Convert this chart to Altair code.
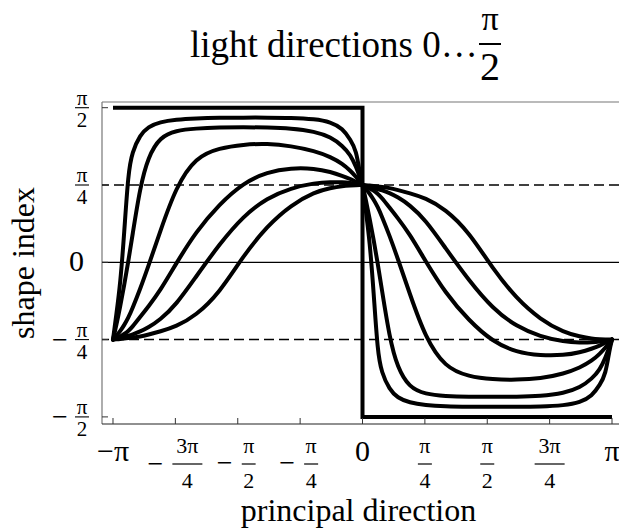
import math
import altair as alt
import pandas as pd

PI = math.pi

# ---- curve samples: principal direction (rad) -> shape index (rad) ----
theta_left = [-3.1416, -3.10, -3.05, -3.00, -2.95, -2.90, -2.80, -2.70, -2.55, -2.35, -2.10,
              -1.80, -1.50, -1.20, -0.90, -0.60, -0.40, -0.25, -0.15, -0.08, -0.03, 0.0]
left_1 = [-0.785, -0.534, -0.221, 0.298, 0.909, 1.121, 1.294, 1.377, 1.426, 1.451, 1.463,
          1.469, 1.470, 1.470, 1.469, 1.456, 1.426, 1.360, 1.243, 1.141, 0.887, 0.785]
left_2 = [-0.785, -0.643, -0.444, -0.231, 0.003, 0.257, 0.765, 1.070, 1.273, 1.339, 1.360,
          1.370, 1.372, 1.370, 1.362, 1.329, 1.273, 1.182, 1.090, 0.968, 0.857, 0.785]
left_3 = [-0.785, -0.749, -0.698, -0.637, -0.566, -0.475, -0.272, -0.048, 0.308, 0.765, 1.070,
          1.162, 1.197, 1.207, 1.182, 1.131, 1.070, 1.000, 0.928, 0.867, 0.816, 0.785]
left_4 = [-0.785, -0.775, -0.754, -0.729, -0.699, -0.659, -0.556, -0.454, -0.292, -0.017, 0.308,
          0.593, 0.807, 0.918, 0.959, 0.953, 0.918, 0.877, 0.846, 0.816, 0.796, 0.785]
left_5 = [-0.785, -0.775, -0.765, -0.755, -0.745, -0.735, -0.704, -0.664, -0.586, -0.434, -0.150,
          0.186, 0.471, 0.654, 0.755, 0.806, 0.816, 0.813, 0.806, 0.796, 0.791, 0.785]
left_6 = [-0.785, -0.783, -0.780, -0.775, -0.770, -0.765, -0.755, -0.735, -0.704, -0.654, -0.543,
          -0.309, 0.067, 0.369, 0.582, 0.715, 0.755, 0.776, 0.781, 0.784, 0.785, 0.785]

theta_right = [0.0, 0.04, 0.09, 0.14, 0.19, 0.24, 0.34, 0.44, 0.59, 0.79, 1.04,
               1.34, 1.64, 1.94, 2.24, 2.54, 2.74, 2.89, 2.99, 3.06, 3.11, 3.1416]
right_1 = [0.785, 0.534, 0.221, -0.298, -0.909, -1.121, -1.294, -1.377, -1.426, -1.451, -1.463,
           -1.467, -1.468, -1.468, -1.467, -1.454, -1.424, -1.358, -1.243, -1.141, -0.887, -0.785]
right_2 = [0.785, 0.643, 0.444, 0.231, -0.003, -0.257, -0.765, -1.070, -1.273, -1.339, -1.360,
           -1.368, -1.366, -1.366, -1.360, -1.329, -1.273, -1.182, -1.090, -0.968, -0.857, -0.785]
right_3 = [0.785, 0.749, 0.698, 0.637, 0.566, 0.475, 0.272, 0.048, -0.308, -0.765, -1.070,
           -1.162, -1.190, -1.195, -1.182, -1.131, -1.070, -1.000, -0.928, -0.867, -0.816, -0.785]
right_4 = [0.785, 0.775, 0.754, 0.729, 0.699, 0.659, 0.556, 0.454, 0.292, 0.017, -0.308,
           -0.593, -0.807, -0.915, -0.948, -0.945, -0.915, -0.877, -0.846, -0.816, -0.796, -0.785]
right_5 = [0.785, 0.775, 0.765, 0.755, 0.745, 0.735, 0.704, 0.664, 0.586, 0.434, 0.150,
           -0.186, -0.471, -0.654, -0.755, -0.806, -0.816, -0.813, -0.806, -0.796, -0.791, -0.785]
right_6 = [0.785, 0.783, 0.780, 0.775, 0.770, 0.765, 0.755, 0.735, 0.704, 0.654, 0.543,
           0.309, -0.067, -0.369, -0.582, -0.715, -0.755, -0.776, -0.781, -0.784, -0.785, -0.785]

# limiting case: a square step
step_x = [-PI, 0.0, 0.0, PI]
step_y = [PI / 2, PI / 2, -PI / 2, -PI / 2]

# reference levels
dashed_levels = [PI / 4, -PI / 4]
solid_levels = [0.0]

# tick values and their labels (sign, numerator, denominator)
x_ticks = [-PI, -3 * PI / 4, -PI / 2, -PI / 4, 0.0, PI / 4, PI / 2, 3 * PI / 4, PI]
x_sign = ["−", "−", "−", "−", "", "", "", "", ""]
x_num = ["π", "3π", "π", "π", "0", "π", "π", "3π", "π"]
x_den = ["", "4", "2", "4", "", "4", "2", "4", ""]

y_ticks = [-PI / 2, -PI / 4, 0.0, PI / 4, PI / 2]
y_sign = ["−", "−", "", "", ""]
y_num = ["π", "π", "0", "π", "π"]
y_den = ["2", "4", "", "4", "2"]

W, H = 517, 322
FONT = "Liberation Serif"

rows = []
for k, vals in enumerate([left_1, left_2, left_3, left_4, left_5, left_6], start=1):
    for t, v in zip(theta_left, vals):
        rows.append({"theta": t, "v": v, "series": f"L{k}"})
for k, vals in enumerate([right_1, right_2, right_3, right_4, right_5, right_6], start=1):
    for t, v in zip(theta_right, vals):
        rows.append({"theta": t, "v": v, "series": f"R{k}"})
curves = pd.DataFrame(rows)
step = pd.DataFrame({"theta": step_x, "v": step_y, "i": list(range(len(step_x)))})

xs = alt.Scale(domain=[-PI - 0.1385, PI + 0.0881], nice=False, zero=False)
ys = alt.Scale(domain=[-PI / 2 - 0.0721, PI / 2 + 0.0579], nice=False, zero=False)
X = alt.X("theta:Q", scale=xs, axis=None)
Y = alt.Y("v:Q", scale=ys, axis=None)

one = pd.DataFrame({"a": [0]})

frame_left = alt.Chart(one).mark_rule(color="#777777", strokeWidth=1.2).encode(
    x=alt.value(0), y=alt.value(0), y2=alt.value(H))
frame_top = alt.Chart(one).mark_rule(color="#777777", strokeWidth=1.2).encode(
    y=alt.value(0), x=alt.value(0), x2=alt.value(W))
frame_bottom = alt.Chart(one).mark_rule(color="#222222", strokeWidth=1.2).encode(
    y=alt.value(H), x=alt.value(0), x2=alt.value(W))

dashed = alt.Chart(pd.DataFrame({"v": dashed_levels})).mark_rule(
    color="black", strokeWidth=1.5, strokeDash=[10, 5]).encode(y=Y)
solid = alt.Chart(pd.DataFrame({"v": solid_levels})).mark_rule(
    color="black", strokeWidth=1.3).encode(y=Y)

lines = alt.Chart(curves).mark_line(
    color="black", strokeWidth=4, interpolate="basis", strokeCap="round", strokeJoin="round"
).encode(x=X, y=Y, detail="series:N")
step_line = alt.Chart(step).mark_line(color="black", strokeWidth=4, strokeJoin="miter").encode(
    x=X, y=Y, order="i:O")

xlab = pd.DataFrame({"t": x_ticks, "sign": x_sign, "num": x_num, "den": x_den})
ylab = pd.DataFrame({"t": y_ticks, "sign": y_sign, "num": y_num, "den": y_den})
XT = alt.X("t:Q", scale=xs, axis=None)
YT = alt.Y("t:Q", scale=ys, axis=None)

x_tick_marks = alt.Chart(xlab).mark_rule(color="#333333", strokeWidth=1).encode(
    x=XT, y=alt.value(H - 6), y2=alt.value(H))
y_tick_marks = alt.Chart(ylab).mark_rule(color="#333333", strokeWidth=1).encode(
    y=YT, x=alt.value(0), x2=alt.value(6))

# x axis labels: whole labels, then fractions with a leading sign where negative
is_frac = "datum.den != ''"
is_neg = "datum.sign != ''"
is_three = "datum.num == '3π'"

x_plain = alt.Chart(xlab).transform_filter("datum.den == ''").transform_calculate(
    label="datum.sign + datum.num").mark_text(
    font=FONT, fontSize=30, baseline="alphabetic").encode(
    x=XT, y=alt.value(H + 37), text="label:N")


def x_fraction(filter_expr, dx, half):
    base = alt.Chart(xlab).transform_filter(f"{is_frac} && {filter_expr}")
    num = base.mark_text(font=FONT, fontSize=22, baseline="alphabetic", dx=dx).encode(
        x=XT, y=alt.value(H + 29), text="num:N")
    den = base.mark_text(font=FONT, fontSize=22, baseline="alphabetic", dx=dx).encode(
        x=XT, y=alt.value(H + 64), text="den:N")
    bar = base.mark_rule(color="black", strokeWidth=1.2, xOffset=dx - half,
                         x2Offset=dx + half).encode(x=XT, x2="t:Q", y=alt.value(H + 40))
    return [num, den, bar]


x_fracs = (
    x_fraction(f"!({is_neg}) && !({is_three})", 0, 7)
    + x_fraction(f"!({is_neg}) && {is_three}", 0, 15)
    + x_fraction(f"{is_neg} && !({is_three})", 11, 7)
    + x_fraction(f"{is_neg} && {is_three}", 12, 15)
)
x_minus_1 = alt.Chart(xlab).transform_filter(f"{is_frac} && {is_neg} && !({is_three})").mark_text(
    font=FONT, fontSize=28, baseline="alphabetic", dx=-13).encode(
    x=XT, y=alt.value(H + 48), text="sign:N")
x_minus_3 = alt.Chart(xlab).transform_filter(f"{is_frac} && {is_neg} && {is_three}").mark_text(
    font=FONT, fontSize=28, baseline="alphabetic", dx=-20).encode(
    x=XT, y=alt.value(H + 49), text="sign:N")

# y axis labels
y_plain = alt.Chart(ylab).transform_filter("datum.den == ''").mark_text(
    font=FONT, fontSize=30, baseline="middle", align="right").encode(
    y=YT, x=alt.value(-18), text="num:N")
y_frac_num = alt.Chart(ylab).transform_filter(is_frac).mark_text(
    font=FONT, fontSize=21, baseline="alphabetic", dy=-3).encode(
    y=YT, x=alt.value(-20), text="num:N")
y_frac_den = alt.Chart(ylab).transform_filter(is_frac).mark_text(
    font=FONT, fontSize=21, baseline="alphabetic", dy=19).encode(
    y=YT, x=alt.value(-20), text="den:N")
y_bar = alt.Chart(ylab).transform_filter(is_frac).mark_rule(
    color="black", strokeWidth=1.1).encode(y=YT, x=alt.value(-27), x2=alt.value(-13))
y_minus = alt.Chart(ylab).transform_filter(is_neg).mark_text(
    font=FONT, fontSize=28, baseline="alphabetic", dy=9).encode(
    y=YT, x=alt.value(-42), text="sign:N")

# titles
title_text = alt.Chart(one).mark_text(
    font=FONT, fontSize=37, align="left", baseline="alphabetic").encode(
    x=alt.value(88), y=alt.value(-45), text=alt.value("light directions 0…"))
title_num = alt.Chart(one).mark_text(
    font=FONT, fontSize=34, baseline="alphabetic").encode(
    x=alt.value(388), y=alt.value(-72), text=alt.value("π"))
title_den = alt.Chart(one).mark_text(
    font=FONT, fontSize=40, baseline="alphabetic").encode(
    x=alt.value(388), y=alt.value(-22), text=alt.value("2"))
title_bar = alt.Chart(one).mark_rule(color="black", strokeWidth=2).encode(
    y=alt.value(-58), x=alt.value(377), x2=alt.value(399))

x_title = alt.Chart(one).mark_text(font=FONT, fontSize=32, baseline="alphabetic").encode(
    x=alt.value(W / 2 - 2), y=alt.value(H + 97), text=alt.value("principal direction"))
y_title = alt.Chart(one).mark_text(font=FONT, fontSize=32, baseline="middle", angle=270).encode(
    x=alt.value(-78), y=alt.value(H / 2), text=alt.value("shape index"))

chart = alt.layer(
    frame_left, frame_top, frame_bottom, dashed, solid, step_line, lines,
    x_tick_marks, y_tick_marks,
    x_plain, *x_fracs, x_minus_1, x_minus_3,
    y_plain, y_frac_num, y_frac_den, y_bar, y_minus,
    title_text, title_num, title_den, title_bar, x_title, y_title,
).properties(
    width=W, height=H,
    padding={"left": 102, "top": 102, "right": 0, "bottom": 107},
    autosize=alt.AutoSizeParams(type="none"),
    background="white",
).configure_view(strokeWidth=0)

chart.save("out.html", embed_options={"renderer": "svg", "actions": False})
